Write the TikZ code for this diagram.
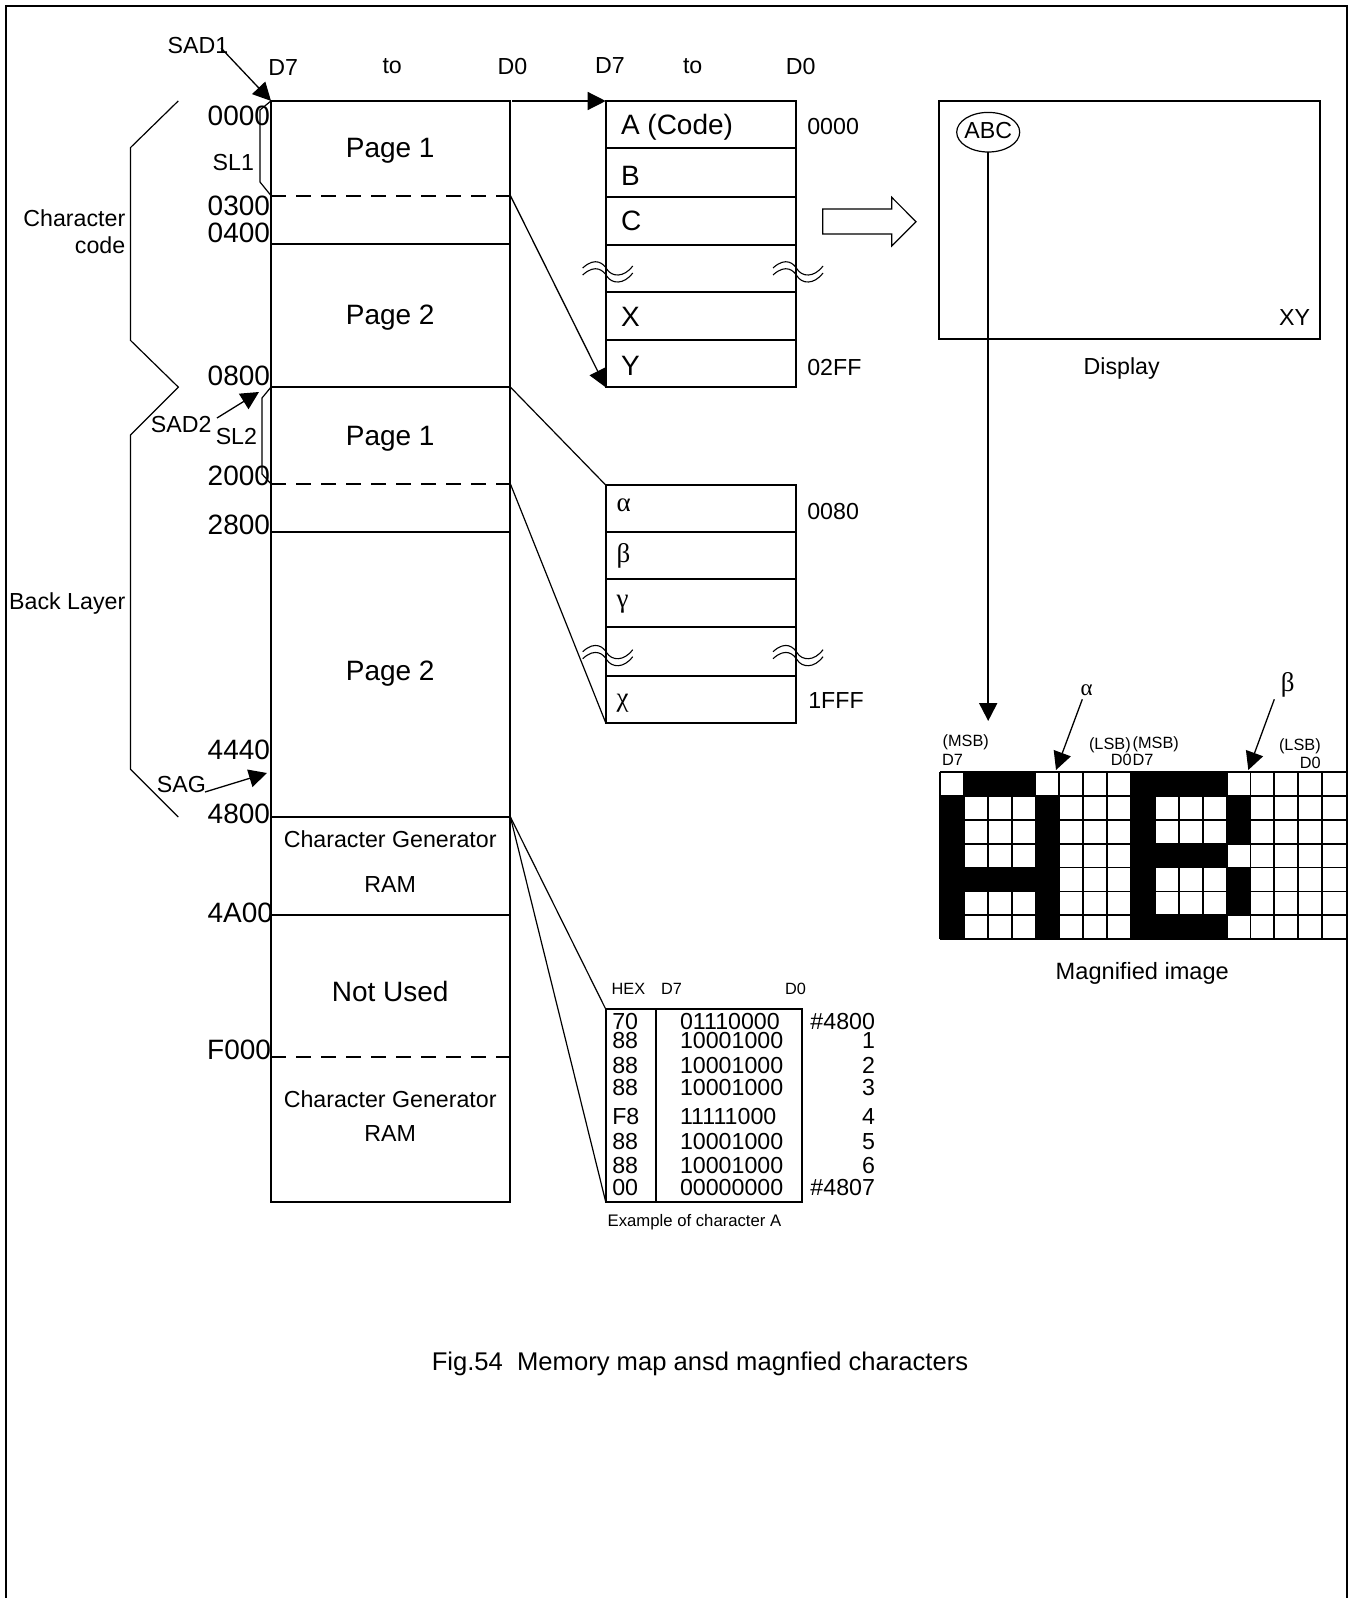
\documentclass[tikz,border=0pt]{standalone}
\usepackage{fontspec}
\setmainfont{Liberation Sans}
\newfontfamily\greekserif{Liberation Serif}
\usetikzlibrary{arrows.meta,positioning,shapes.geometric}

\begin{document}
\begin{tikzpicture}[
    x=1pt, y=-1pt,
    every node/.style={align=center, inner sep=0pt, outer sep=0pt},
    big/.style={font=\fontsize{28}{28}\selectfont, text height=20pt, text depth=0pt},
    mid/.style={font=\fontsize{23.2}{23.2}\selectfont, text height=16.6pt, text depth=0pt},
    tiny/.style={font=\fontsize{16.3}{16.3}\selectfont, text height=11.7pt, text depth=0pt},
    greek/.style={font=\fontsize{27}{27}\selectfont\greekserif, text height=12pt, text depth=0pt},
    membox/.style={rectangle, draw, line width=2pt, minimum width=239.4pt},
    rowbox/.style={rectangle, draw, line width=2pt, minimum width=190.3pt},
    thin line/.style={line width=1.2pt},
    arrow/.style={line width=1.3pt, -{Triangle[length=18pt,width=18pt]}},
    wave/.pic={
        \draw[line width=1.1pt] (-23,-3) .. controls (-10,-15) and (-2,-7) .. (1,-2) .. controls (6,6) and (18,7) .. (27,-5);
        \draw[line width=1.1pt] (-23,4) .. controls (-10,-8) and (-2,0) .. (1,5) .. controls (6,13) and (18,14) .. (27,2);
    }
]
\useasboundingbox (0,0) rectangle (1352,1598);

% Outer frame
\coordinate (frameA) at (5.5,1598);
\coordinate (frameB) at (5.5,6);
\coordinate (frameC) at (1347,6);
\coordinate (frameD) at (1347,1598);
\draw[line width=2pt] (frameA) -- (frameB) -- (frameC) -- (frameD);

% Memory map
\node[membox, minimum height=142.6pt] (memA) at (390.7,172.2) {};
\node[membox, minimum height=143.6pt, below=0pt of memA] (memB) {};
\node[membox, minimum height=144.7pt, below=0pt of memB] (memC) {};
\node[membox, minimum height=285.2pt, below=0pt of memC] (memD) {};
\node[membox, minimum height=97.9pt, below=0pt of memD] (memE) {};
\node[membox, minimum height=287.1pt, below=0pt of memE] (memF) {};
\coordinate (dashAl) at (271,195.6);
\coordinate (dashAr) at (510.4,195.6);
\coordinate (dashBl) at (271,483.9);
\coordinate (dashBr) at (510.4,483.9);
\coordinate (dashCl) at (271,1056.6);
\coordinate (dashCr) at (510.4,1056.6);
\foreach \n in {A,B,C}
    \draw[line width=2pt, dash pattern=on 15pt off 10pt] (dash\n l) -- (dash\n r);

\node[big] (pgA) at (390.2,147.7) {Page 1};
\node[big] (pgB) at (390.2,314.8) {Page 2};
\node[big] (pgC) at (390.2,435) {Page 1};
\node[big] (pgD) at (390.2,670.4) {Page 2};
\node[mid] (cgA) at (390.2,839.5) {Character Generator};
\node[mid] (ramA) at (390.2,884.3) {RAM};
\node[big] (unused) at (390.2,991.3) {Not Used};
\node[mid] (cgB) at (390.2,1099.3) {Character Generator};
\node[mid] (ramB) at (390.2,1133.5) {RAM};

% Addresses
\node[big, anchor=east] (adA) at (270,115.1) {0000};
\node[big, anchor=east] (adB) at (270,205.8) {0300};
\node[big, anchor=east] (adC) at (270,232.3) {0400};
\node[big, anchor=east] (adD) at (270,375.9) {0800};
\node[big, anchor=east] (adE) at (270,475.8) {2000};
\node[big, anchor=east] (adF) at (270,524.7) {2800};
\node[big, anchor=east] (adG) at (270,749.8) {4440};
\node[big, anchor=east] (adH) at (270,813) {4800};
\node[big, anchor=east] (adI) at (273,912.8) {4A00};
\node[big, anchor=east] (adJ) at (271,1049.4) {F000};

% Bit headings
\node[mid] (hdA) at (283.2,67.2) {D7};
\node[mid] (hdB) at (392.2,65.2) {to};
\node[mid] (hdC) at (512.5,66.2) {D0};
\node[mid] (hdD) at (610,65.5) {D7};
\node[mid] (hdE) at (692.7,65.5) {to};
\node[mid] (hdF) at (800.7,66) {D0};

% Left side labels
\node[mid, anchor=east, align=right] (chcode) at (125.3,245.5) {Character\\[4.3pt]code};
\node[mid, anchor=east] (backl) at (125.3,601) {Back Layer};
\coordinate (brA) at (178.3,100.9);
\coordinate (brB) at (130.4,147.7);
\coordinate (brC) at (130.4,340.3);
\coordinate (brD) at (178.3,387.1);
\coordinate (brE) at (130.4,435);
\coordinate (brF) at (130.4,769.2);
\coordinate (brG) at (178.3,817);
\draw[thin line] (brA) -- (brB) -- (brC) -- (brD) -- (brE) -- (brF) -- (brG);

\node[mid] (sadA) at (198,44.8) {SAD1};
\node[mid] (slA) at (233.3,162) {SL1};
\node[mid] (sadB) at (181.3,423.8) {SAD2};
\node[mid] (slB) at (236.4,436) {SL2};
\node[mid] (sag) at (181.3,784.5) {SAG};
\coordinate (sadAs) at (221,48);
\coordinate (sadBs) at (217,418);
\coordinate (sadBe) at (259,392);
\coordinate (sagS) at (205,792);
\coordinate (sagE) at (267,773);
\draw[arrow] (sadAs) -- (memA.north west);
\draw[arrow] (sadBs) -- (sadBe);
\draw[arrow] (sagS) -- (sagE);

% Scan line brackets
\coordinate (slAa) at (260,110);
\coordinate (slAb) at (260,182);
\coordinate (slBa) at (262,398);
\coordinate (slBb) at (262,474);
\draw[thin line] (memA.north west) -- (slAa) -- (slAb) -- (dashAl);
\draw[thin line] (memC.north west) -- (slBa) -- (slBb) -- (dashBl);

% Character code table
\node[rowbox, minimum height=46.7pt] (rowA) at (700.85,124.35) {};
\node[rowbox, minimum height=49pt, below=0pt of rowA] (rowB) {};
\node[rowbox, minimum height=48.3pt, below=0pt of rowB] (rowC) {};
\node[rowbox, minimum height=46.7pt, below=0pt of rowC] (rowD) {};
\node[rowbox, minimum height=48.3pt, below=0pt of rowD] (rowE) {};
\node[rowbox, minimum height=47.3pt, below=0pt of rowE] (rowF) {};
\node[big, anchor=west] (txA) at (621,124.3) {A (Code)};
\node[big, anchor=west] (txB) at (621,175) {B};
\node[big, anchor=west] (txC) at (621,220) {C};
\node[big, anchor=west] (txX) at (621,316) {X};
\node[big, anchor=west] (txY) at (621,365) {Y};
\node[mid, anchor=west] (cdA) at (807.3,126) {0000};
\node[mid, anchor=west] (cdB) at (807.3,366.7) {02FF};
\pic at (605.7,271) {wave};
\pic at (796,271) {wave};
\coordinate (codeS) at (512,101);
\draw[arrow] (codeS) -- (rowA.north west);
\draw[arrow] (dashAr) -- (rowF.south west);

% Back layer table
\node[rowbox, minimum height=46.7pt] (bkA) at (700.85,508.35) {};
\node[rowbox, minimum height=47pt, below=0pt of bkA] (bkB) {};
\node[rowbox, minimum height=48pt, below=0pt of bkB] (bkC) {};
\node[rowbox, minimum height=49.3pt, below=0pt of bkC] (bkD) {};
\node[rowbox, minimum height=46.7pt, below=0pt of bkD] (bkE) {};
\node[greek, anchor=west] (grA) at (616.7,505) {α};
\node[greek, anchor=west] (grB) at (616.7,556) {β};
\node[greek, anchor=west] (grC) at (616.7,601.7) {γ};
\node[greek, anchor=west] (grD) at (616.7,700.5) {χ};
\node[mid, anchor=west] (cdC) at (807.3,510.7) {0080};
\node[mid, anchor=west] (cdD) at (808.3,700) {1FFF};
\pic at (605.7,654.7) {wave};
\pic at (796,654.7) {wave};
\draw[thin line] (memC.north east) -- (bkA.north west);
\draw[thin line] (dashBr) -- (bkE.south west);

% Character A example
\node[rectangle, draw, line width=2pt, minimum width=50pt, minimum height=192.7pt] (hexcol) at (630.7,1105.4) {};
\node[rectangle, draw, line width=2pt, minimum width=146.3pt, minimum height=192.7pt, right=0pt of hexcol] (bincol) {};
\draw[thin line] (memE.north east) -- (hexcol.north west);
\draw[thin line] (memE.north east) -- (hexcol.south west);
\node[tiny, anchor=west] (hexh) at (611.7,988.7) {HEX};
\node[tiny, anchor=west] (hexd) at (661,988.7) {D7};
\node[tiny, anchor=west] (hexe) at (785,988.7) {D0};
\foreach \y/\h/\b/\r [count=\i] in {1020.7/70/01110000/\#4800, 1040/88/10001000/1, 1065.3/88/10001000/2, 1087.3/88/10001000/3, 1116/F8/11111000/4, 1140.7/88/10001000/5, 1165.3/88/10001000/6, 1187.3/00/00000000/\#4807} {
    \node[mid, anchor=west] (hx\i) at (612.3,\y) {\h};
    \node[mid, anchor=west] (bn\i) at (680,\y) {\b};
    \node[mid, anchor=east] (nr\i) at (875,\y) {\r};
}
\node[tiny, font=\fontsize{16.7}{16.7}\selectfont, anchor=west] (exmpl) at (607.7,1220.7) {Example of character A};

% Display
\node[rectangle, draw, line width=2pt, minimum width=381pt, minimum height=238.3pt] (disp) at (1129.5,220.2) {};
\node[ellipse, draw, line width=1.2pt, minimum width=63pt, minimum height=39.6pt] (abc) at (988.2,132.2) {};
\node[mid] (abctx) at (988.2,130.4) {ABC};
\node[mid, anchor=east] (xy) at (1310,317) {XY};
\node[mid] (dsptx) at (1121.7,365.7) {Display};
\coordinate (abcE) at (988.2,721);
\draw[arrow, line width=2pt] (abc.south) -- (abcE);
\coordinate (hlA) at (822.7,209);
\coordinate (hlB) at (891.7,209);
\coordinate (hlC) at (891.7,197.3);
\coordinate (hlD) at (916,221.7);
\coordinate (hlE) at (891.7,246);
\coordinate (hlF) at (891.7,234);
\coordinate (hlG) at (822.7,234);
\draw[thin line] (hlA) -- (hlB) -- (hlC) -- (hlD) -- (hlE) -- (hlF) -- (hlG) -- cycle;

% Magnified image
\foreach \c/\r in {1/0,2/0,3/0,0/1,4/1,0/2,4/2,0/3,4/3,0/4,1/4,2/4,3/4,4/4,0/5,4/5,0/6,4/6,
    8/0,9/0,10/0,11/0,8/1,12/1,8/2,12/2,8/3,9/3,10/3,11/3,8/4,12/4,8/5,12/5,8/6,9/6,10/6,11/6}
    \fill (940+\c*23.88,771.7+\r*23.95) rectangle ++(23.88,23.95);
\foreach \c in {0,...,16}
    \draw[line width=1.9pt] (940+\c*23.88,771.7) -- (940+\c*23.88,939.35);
\foreach \r in {0,...,7}
    \draw[line width=1.9pt] (940,771.7+\r*23.95) -- (1346,771.7+\r*23.95);
\node[tiny, anchor=west] (msbA) at (942.7,740.7) {(MSB)};
\node[tiny, anchor=west] (dsA) at (942,759.3) {D7};
\node[tiny, anchor=east] (lsbA) at (1130.7,743.3) {(LSB)};
\node[tiny, anchor=east] (dzA) at (1131.7,760) {D0};
\node[tiny, anchor=west] (msbB) at (1132.7,742.7) {(MSB)};
\node[tiny, anchor=west] (dsB) at (1132.7,760) {D7};
\node[tiny, anchor=east] (lsbB) at (1320.7,745) {(LSB)};
\node[tiny, anchor=east] (dzB) at (1320.7,762.7) {D0};
\node[greek, font=\fontsize{23}{23}\selectfont\greekserif] (alph) at (1086.7,689) {α};
\node[greek] (bet) at (1287.7,685) {β};
\coordinate (alphS) at (1082.3,699.3);
\coordinate (alphE) at (1056,770);
\coordinate (betS) at (1274.3,699.3);
\coordinate (betE) at (1248.3,770);
\draw[arrow] (alphS) -- (alphE);
\draw[arrow] (betS) -- (betE);
\node[mid, font=\fontsize{23.6}{23.6}\selectfont] (magn) at (1142.3,971) {Magnified image};

% Caption
\node[font=\fontsize{25.6}{25.6}\selectfont, text height=18pt, text depth=0pt] (figcap) at (700,1361) {Fig.54\ \ Memory map ansd magnfied characters};

\end{tikzpicture}
\end{document}
